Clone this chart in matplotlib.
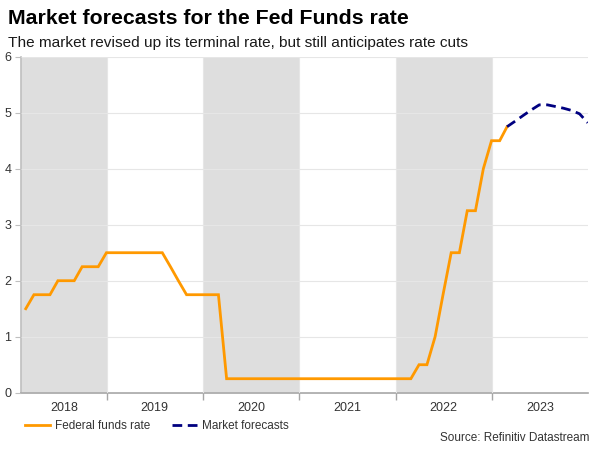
import matplotlib
matplotlib.use("Agg")
import matplotlib.pyplot as plt
import matplotlib.dates as mdates
from matplotlib.lines import Line2D
import pandas as pd

plt.rcParams['font.family'] = ['Liberation Sans', 'DejaVu Sans']

# ---- data ----
fed_months = pd.date_range("2018-02-28", "2023-02-28", freq="ME")
fed_rate = [1.5, 1.75, 1.75, 1.75, 2.0, 2.0, 2.0, 2.25, 2.25, 2.25, 2.5,          # 2018 Feb-Dec
            2.5, 2.5, 2.5, 2.5, 2.5, 2.5, 2.5, 2.25, 2.0, 1.75, 1.75, 1.75,       # 2019
            1.75, 1.75, 0.25, 0.25, 0.25, 0.25, 0.25, 0.25, 0.25, 0.25, 0.25, 0.25,  # 2020
            0.25, 0.25, 0.25, 0.25, 0.25, 0.25, 0.25, 0.25, 0.25, 0.25, 0.25, 0.25,  # 2021
            0.25, 0.25, 0.5, 0.5, 1.0, 1.75, 2.5, 2.5, 3.25, 3.25, 4.0, 4.5,      # 2022
            4.5, 4.75]                                                          # 2023 Jan-Feb
fc_months = pd.date_range("2023-02-28", "2023-12-31", freq="ME")
fc_rate = [4.75, 4.85, 4.95, 5.05, 5.14, 5.14, 5.11, 5.08, 5.04, 4.98, 4.82]

years = [2018, 2019, 2020, 2021, 2022, 2023]
shaded_years = [2018, 2020, 2022]
yticks = [0, 1, 2, 3, 4, 5, 6]

title = "Market forecasts for the Fed Funds rate"
subtitle = "The market revised up its terminal rate, but still anticipates rate cuts"
source = "Source: Refinitiv Datastream"

ORANGE = "#FF9900"
NAVY = "#000080"
BAND = "#DEDEDE"
GRID = "#E6E6E6"
TXT = "#333333"

fig = plt.figure(figsize=(6, 4.5), dpi=100)
ax = fig.add_axes([0.035, 0.1273, 0.945, 0.7467])

xmin = mdates.date2num(pd.Timestamp("2018-02-10"))
xmax = mdates.date2num(pd.Timestamp("2024-01-01"))

for y in shaded_years:
    a = max(mdates.date2num(pd.Timestamp(f"{y}-01-01")), xmin)
    b = mdates.date2num(pd.Timestamp(f"{y+1}-01-01"))
    ax.axvspan(a, b, color=BAND, lw=0, zorder=0)

ax.plot(mdates.date2num(fed_months), fed_rate, color=ORANGE, lw=2.0, zorder=3,
        solid_joinstyle='miter')
ax.plot(mdates.date2num(fc_months), fc_rate, color=NAVY, lw=2.0, ls=(0, (3.5, 2)), zorder=3)

ax.set_xlim(xmin, xmax)
ax.set_ylim(0, 6)
ax.set_yticks(yticks)
ax.set_yticklabels([str(v) for v in yticks])

bounds = [mdates.date2num(pd.Timestamp(f"{y}-01-01")) for y in years[1:]]
ax.set_xticks(bounds)
ax.set_xticklabels([])
mids = []
for y in years:
    a = max(mdates.date2num(pd.Timestamp(f"{y}-01-01")), xmin)
    b = min(mdates.date2num(pd.Timestamp(f"{y+1}-01-01")), xmax)
    mids.append((a + b) / 2)
ax.set_xticks(mids, minor=True)
ax.set_xticklabels([str(y) for y in years], minor=True)
ax.tick_params(axis='x', which='minor', length=0, pad=7, labelsize=9, labelcolor=TXT)
ax.tick_params(axis='x', which='major', length=5, color="#A6A6A6", width=1)
ax.tick_params(axis='y', length=4, color="#BFBFBF", labelsize=9, labelcolor=TXT, pad=3)

ax.grid(axis='y', color=GRID, lw=0.8, zorder=1)
ax.grid(axis='x', which='major', color=GRID, lw=0.8, zorder=1)
ax.set_axisbelow(False)
for l in ax.get_ygridlines() + ax.get_xgridlines():
    l.set_zorder(1)

for s in ['top', 'right']:
    ax.spines[s].set_visible(False)
ax.spines['left'].set_color("#BFBFBF")
ax.spines['bottom'].set_color("#A6A6A6")
ax.spines['left'].set_linewidth(1.2)
ax.spines['bottom'].set_linewidth(1.2)

fig.text(0.013, 0.947, title, fontsize=15.3, fontweight='bold', color="#000000", va='baseline')
fig.text(0.013, 0.896, subtitle, fontsize=11.1, color="#1A1A1A", va='baseline')

handles = [Line2D([], [], color=ORANGE, lw=2.0),
           Line2D([], [], color=NAVY, lw=2.0, ls=(0, (3.5, 2)))]
fig.legend(handles, ["Federal funds rate", "Market forecasts"], loc='center left',
           bbox_to_anchor=(0.042, 0.054), ncol=2, frameon=False, fontsize=8.5,
           handlelength=2.1, handletextpad=0.45, columnspacing=1.8, borderaxespad=0,
           borderpad=0, labelcolor=TXT)

fig.text(0.983, 0.02, source, fontsize=8.5, color=TXT, ha='right', va='baseline')

fig.savefig("out.png", dpi=100)
